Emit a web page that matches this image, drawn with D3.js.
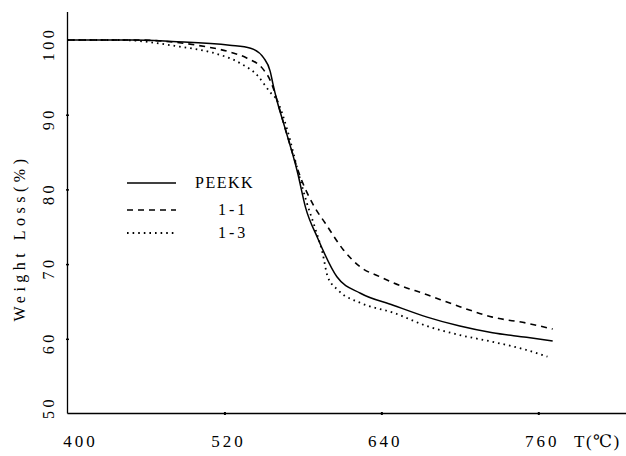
<!DOCTYPE html>
<html><head><meta charset="utf-8">
<script src="https://cdn.jsdelivr.net/npm/d3@7"></script>
<style>body{margin:0;background:#fff}svg{display:block}</style>
</head><body>
<svg id="c" width="626" height="456"></svg>
<script>
// Data
const seriesNames = ["PEEKK", "1-1", "1-3"];
const peekkT = [400,450,480,524,540,550,555,557,560,566,576,582,591,606,624,649,675,700,725,751,771];
const peekkW = [100,100,99.8,99.3,98.9,97.6,95.8,94.2,92.0,88.4,82.2,77.6,73.6,68.3,66.1,64.5,62.9,61.7,60.8,60.2,59.7];
const oneOneT = [400,450,499,524,537,550,555,557,566,578,589,597,611,624,639,649,675,700,725,751,771];
const oneOneW = [100,100,99.3,98.4,97.6,96.0,94.6,93.7,88.4,81.7,77.6,75.5,71.9,69.6,68.3,67.5,65.9,64.3,62.9,62.1,61.3];
const oneThreeT = [400,440,486,511,532,545,555,560,568,576,583,589,595,599,607,624,649,675,700,725,751,767];
const oneThreeW = [100,100,99.1,98.3,96.9,95.3,93.0,92.0,88.0,82.6,78.2,75.0,71.5,68.3,66.5,64.8,63.5,61.7,60.5,59.6,58.5,57.6];
const xTicks = [400, 520, 640, 760];
const yTicks = [50, 60, 70, 80, 90, 100];

const svg = d3.select("#c");
const x = d3.scaleLinear().domain([400, 760]).range([67.5, 538.3]);
const y = d3.scaleLinear().domain([50, 100]).range([413.5, 40]);
const font = "'Liberation Serif', 'DejaVu Serif', serif";

// axes lines
svg.append("line").attr("x1", x(400)).attr("x2", 626).attr("y1", y(50)).attr("y2", y(50))
  .attr("stroke", "#000").attr("stroke-width", 1.3);
svg.append("line").attr("x1", x(400)).attr("x2", x(400)).attr("y1", 12).attr("y2", y(50))
  .attr("stroke", "#000").attr("stroke-width", 1.3);

// ticks via d3 axes
const xAxis = d3.axisBottom(x).tickValues(xTicks.slice(1)).tickSize(3).tickFormat("");
const gx = svg.append("g").attr("transform", `translate(0,${y(50) - 1.5})`).call(xAxis);
gx.select(".domain").remove();
gx.selectAll("line").attr("stroke-width", 2);
const yAxis = d3.axisRight(y).tickValues(yTicks.slice(1, -1)).tickSize(3).tickFormat("");
const gy = svg.append("g").attr("transform", `translate(${x(400) - 1.5},0)`).call(yAxis);
gy.select(".domain").remove();
gy.selectAll("line").attr("stroke-width", 1.5);

// tick labels
svg.selectAll(".xl").data(xTicks).enter().append("text")
  .attr("x", d => x(d) + (d === 400 ? 13 : 4)).attr("y", 447)
  .attr("text-anchor", "middle").attr("font-family", font).attr("font-size", 17)
  .attr("letter-spacing", 3).text(d => d);
svg.append("text").attr("x", 574).attr("y", 447).attr("font-family", font)
  .attr("font-size", 17).attr("letter-spacing", 1.5).text("T(℃)");

svg.selectAll(".yl").data(yTicks).enter().append("text")
  .attr("transform", d => `translate(54,${y(d) + (d === 50 ? -6 : 4)}) rotate(-90)`)
  .attr("text-anchor", "middle").attr("font-family", font).attr("font-size", 16)
  .attr("letter-spacing", 3.5).text(d => d);

svg.append("text").attr("transform", "translate(25,238) rotate(-90)")
  .attr("text-anchor", "middle").attr("font-family", font).attr("font-size", 16)
  .attr("letter-spacing", 4.5).text("Weight Loss(%)");

// curves
const line = d3.line().x(d => x(d[0])).y(d => y(d[1])).curve(d3.curveMonotoneX);
const series = [
  {name: seriesNames[0], T: peekkT, W: peekkW, dash: null, w: 1.5},
  {name: seriesNames[1], T: oneOneT, W: oneOneW, dash: "6,5", w: 1.6},
  {name: seriesNames[2], T: oneThreeT, W: oneThreeW, dash: "1.6,4", w: 1.8}
];
series.forEach(s => {
  svg.append("path").datum(s.T.map((t, i) => [t, s.W[i]]))
    .attr("d", line).attr("fill", "none").attr("stroke", "#000")
    .attr("stroke-width", s.w).attr("stroke-dasharray", s.dash);
});

// legend
const ly = [183, 210, 233];
series.forEach((s, i) => {
  svg.append("line").attr("x1", 127).attr("x2", 176).attr("y1", ly[i]).attr("y2", ly[i])
    .attr("stroke", "#000").attr("stroke-width", s.w).attr("stroke-dasharray", s.dash);
  svg.append("text").attr("x", i === 0 ? 195 : 218).attr("y", ly[i] + 5)
    .attr("font-family", font).attr("font-size", 16).attr("letter-spacing", i === 0 ? 1.5 : 3)
    .text(s.name);
});
</script>
</body></html>
